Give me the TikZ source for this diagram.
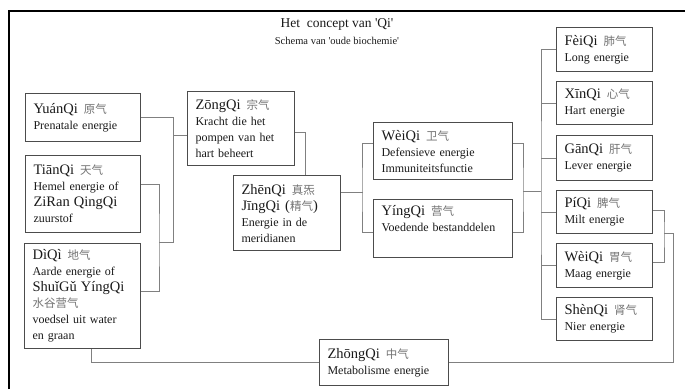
\documentclass[tikz,border=0pt]{standalone}
\usepackage{fontspec}
\setmainfont{Liberation Serif}
\newfontfamily\cjkfont{Noto Sans CJK SC}

\definecolor{boxline}{gray}{0.3}
\definecolor{linkline}{gray}{0.5}
\definecolor{hanzi}{gray}{0.45}
\definecolor{inktext}{gray}{0.1}

% pinyin name followed by its characters
\newcommand{\qiname}[2]{{\fontsize{14.5}{16}\selectfont #1}\hspace{6pt}{\cjkfont\fontsize{11.5}{16}\selectfont\color{hanzi}#2}}
\newcommand{\bigpin}[1]{{\fontsize{14.5}{16}\selectfont #1}}
\newcommand{\hanzitext}[1]{{\cjkfont\fontsize{11.5}{16}\selectfont\color{hanzi}#1}}

\tikzset{
  qibox/.style={draw=boxline, line width=1.1pt, anchor=north west, align=left,
    inner xsep=8pt, inner ysep=3pt, text=inktext,
    font=\fontsize{12}{16}\selectfont, minimum width=#1, text width={#1-16pt}},
  link/.style={draw=linkline, line width=0.8pt},
  frame/.style={line width=2pt}
}

\begin{document}
\begin{tikzpicture}[x=1pt, y=-1pt]
  \useasboundingbox (0,0) rectangle (685,389);
  \draw[frame] (8.5,389) -- (8.5,10.5) -- (685,10.5);
  \node[text=inktext, font=\fontsize{13.5}{15}\selectfont] (title) at (337,24) {Het\ \ concept van \textquotesingle Qi\textquotesingle};
  \node[text=inktext, font=\fontsize{10.5}{12}\selectfont] (subtitle) at (337,41) {Schema van \textquotesingle oude biochemie\textquotesingle};

  % left column
  \node[qibox=115pt, minimum height=48pt] (yuan) at (25,93) {\qiname{YuánQi}{原气}\\ Prenatale energie};
  \node[qibox=115pt, minimum height=77pt] (tian) at (25,155) {\qiname{TiānQi}{天气}\\ Hemel energie of\\ \bigpin{ZiRan QingQi}\\ zuurstof};
  \node[qibox=116pt, minimum height=105pt] (di) at (24,243) {\qiname{DìQì}{地气}\\ Aarde energie of\\ \bigpin{ShuǐGǔ YíngQi}\\ \hanzitext{水谷营气}\\ voedsel uit water\\ en graan};

  % middle
  \node[qibox=107pt, minimum height=74pt] (zong) at (187,91) {\qiname{ZōngQi}{宗气}\\ Kracht die het\\ pompen van het\\ hart beheert};
  \node[qibox=107pt, minimum height=75pt] (zhen) at (233,175) {\qiname{ZhēnQi}{真炁}\\ \bigpin{JīngQi}\hspace{5pt}\bigpin{(}\hanzitext{精气}\bigpin{)}\\ Energie in de\\ meridianen};
  \node[qibox=139pt, minimum height=57pt] (wei) at (373,122) {\qiname{WèiQi}{卫气}\\ Defensieve energie\\ Immuniteitsfunctie};
  \node[qibox=139pt, minimum height=58pt] (ying) at (373,199) {\qiname{YíngQi}{营气}\\ Voedende bestanddelen\\ \strut};
  \node[qibox=129pt, minimum height=46pt] (zhong) at (319,339) {\qiname{ZhōngQi}{中气}\\ Metabolisme energie};

  % organs
  \node[qibox=96pt, minimum height=44pt] (fei) at (556,27) {\qiname{FèiQi}{肺气}\\ Long energie};
  \node[qibox=96pt, minimum height=43pt] (xin) at (556,81) {\qiname{XīnQi}{心气}\\ Hart energie};
  \node[qibox=96pt, minimum height=45pt] (gan) at (556,135) {\qiname{GānQi}{肝气}\\ Lever energie};
  \node[qibox=96pt, minimum height=43pt] (pi) at (556,190) {\qiname{PíQi}{脾气}\\ Milt energie};
  \node[qibox=96pt, minimum height=44pt] (weiM) at (556,243) {\qiname{WèiQi}{胃气}\\ Maag energie};
  \node[qibox=96pt, minimum height=43pt] (shen) at (556,297) {\qiname{ShènQi}{肾气}\\ Nier energie};

  % connectors
  \coordinate (forkA) at (173,242);
  \coordinate (forkB) at (159,242);
  \draw[link] (yuan.east) -| (forkA) -- (forkB);
  \draw[link] ([yshift=10pt]tian.east) -| (forkB) |- ([yshift=5pt]di.east);
  \draw[link] ([yshift=-7pt]zong.west) -- ([yshift=-7pt]zong.west -| forkA);
  \draw[link] ([yshift=-4pt]zong.east) -| ([xshift=18pt]zhen.north);

  \coordinate (forkC) at (362,191.5);
  \draw[link] ([yshift=21pt]zhen.east) -| (forkC);
  \draw[link] ([yshift=7.5pt]wei.west) -| (forkC) |- ([yshift=-4pt]ying.west);
  \coordinate (forkD) at (523,191.5);
  \coordinate (forkE) at (541,191.5);
  \draw[link] ([yshift=7.5pt]wei.east) -| (forkD) |- ([yshift=-4pt]ying.east);
  \draw[link] (forkD) -- (forkE);
  \draw[link] (fei.west) -| (forkE) |- (shen.west);
  \foreach \organ in {xin,gan,pi,weiM}
    \draw[link] (\organ.west) -- (\organ.west -| forkE);

  \coordinate (forkF) at (664,233);
  \coordinate (sideR) at (673,233);
  \draw[link] ([yshift=2pt]pi.east) -| (forkF) |- ([yshift=3pt]weiM.east);
  \draw[link] (forkF) -- (sideR) |- (zhong.east);
  \draw[link] (zhong.west) -| ([xshift=9pt]di.south);
\end{tikzpicture}
\end{document}
